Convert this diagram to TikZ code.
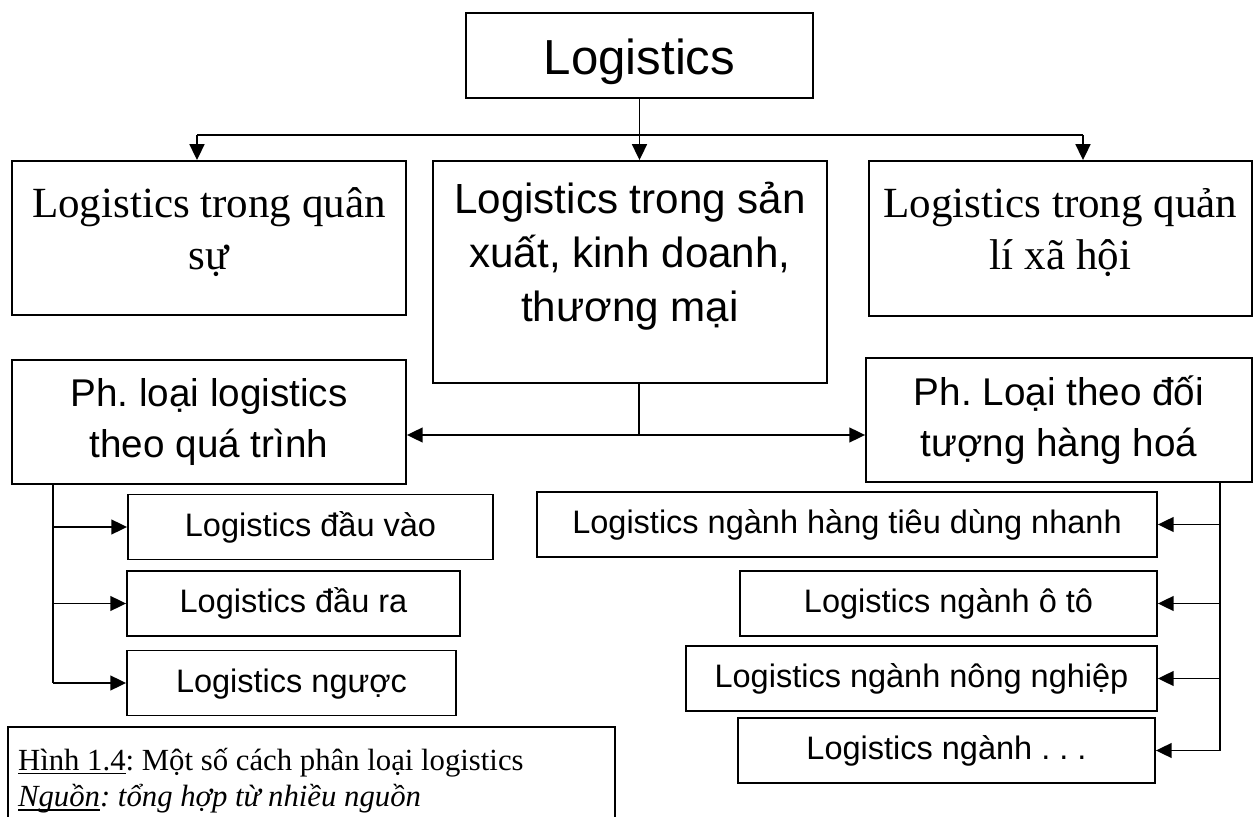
\documentclass[tikz,border=0pt]{standalone}
\usepackage{fontspec}
\setmainfont{Liberation Serif}
\setsansfont{Liberation Sans}
\usetikzlibrary{arrows.meta}
\frenchspacing

% text set at the top of a box of fixed size
\newcommand{\toptext}[4]{\parbox[c][#2][t]{#1}{\centering\vspace*{#3}\strut #4}}
% underline at a fixed depth, through descenders
\newcommand{\undl}[1]{\leavevmode\setbox0\hbox{#1}\rlap{\rule[-2.2pt]{\wd0}{0.8pt}}\box0}

\tikzset{
  box/.style={draw, line width=1.1pt, inner sep=0pt},
  headbox/.style={box, font=\fontsize{28}{34}\selectfont\sffamily, text height=22pt, text depth=0pt},
  kindbox/.style={box, align=center, minimum height=2.48cm, font=\fontsize{22}{29}\selectfont\sffamily},
  itembox/.style={box, minimum height=1.3cm, font=\fontsize{18.5}{22}\selectfont\sffamily, text height=10.5pt, text depth=0pt},
  link/.style={line width=0.9pt},
  arr/.style={link, -{Triangle[length=9pt,width=8.5pt]}}
}

\begin{document}
\begin{tikzpicture}[x=0.02cm, y=-0.02cm]
 \useasboundingbox (0,0) rectangle (1255,817);

 % first level
 \node[headbox, minimum width=6.94cm, minimum height=1.7cm] (root) at (639.5,55.5) {Logistics};
 \node[box, font=\fontsize{24.5}{30}\selectfont\rmfamily] (mil) at (209,238)
   {\toptext{7.88cm}{3.08cm}{10.9pt}{Logistics trong quân\\ sự}};
 \node[box, font=\fontsize{24}{31}\selectfont\sffamily] (prod) at (630,272)
   {\toptext{7.88cm}{4.44cm}{7.9pt}{Logistics trong sản\\ xuất, kinh doanh,\\ thương mại}};
 \node[box, font=\fontsize{24.5}{30}\selectfont\rmfamily] (soc) at (1060.5,238.5)
   {\toptext{7.66cm}{3.1cm}{10.9pt}{Logistics trong quản\\ lí xã hội}};

 % second level
 \node[kindbox, minimum width=7.88cm] (procc) at (209,422) {Ph. loại logistics\\ theo quá trình};
 \node[kindbox, minimum width=7.72cm] (goods) at (1059,420) {Ph. Loại theo đối\\ tượng hàng hoá};

 % by process
 \node[itembox, minimum width=7.3cm] (in) at (310.5,527) {Logistics đầu vào};
 \node[itembox, minimum width=6.66cm] (out) at (293.5,603.5) {Logistics đầu ra};
 \node[itembox, minimum width=6.58cm] (rev) at (291.5,683) {Logistics ngược};

 % by goods
 \node[itembox, minimum width=12.4cm] (fmcg) at (847,524.5) {Logistics ngành hàng tiêu dùng nhanh};
 \node[itembox, minimum width=8.34cm] (auto) at (948.5,603.5) {Logistics ngành ô tô};
 \node[itembox, minimum width=9.42cm] (agri) at (921.5,678.5) {Logistics ngành nông nghiệp};
 \node[itembox, minimum width=8.34cm] (etc) at (946.5,750.5) {Logistics ngành . . .};

 % caption
 \node[box, font=\fontsize{17.5}{21}\selectfont\rmfamily] (cap) at (311.5,782)
   {\parbox[c][2.2cm][t]{12.14cm}{\raggedright\leftskip=0.2cm\vspace*{9.8pt}\strut
    \undl{Hình 1.4}: Một số cách phân loại logistics\\
    \textit{\undl{Nguồn}: tổng hợp từ nhiều nguồn}}};

 % connectors
 \coordinate (busL) at (197,135);
 \coordinate (busR) at (1083,135);
 \draw[arr] (root) -- (root |- prod.north);
 \draw[link] (busL) -- (busR);
 \draw[arr] (busL) -- (busL |- mil.north);
 \draw[arr] (busR) -- (busR |- soc.north);

 \coordinate (split) at (639,435);
 \draw[link] (split |- prod.south) -- (split);
 \draw[arr] (split) -- (split -| procc.east);
 \draw[arr] (split) -- (split -| goods.west);

 \coordinate (lt) at (53,484);
 \draw[link] (lt) -- (lt |- rev.west);
 \foreach \b in {in,out,rev}
   \draw[arr] (lt |- \b.west) -- (\b.west);

 \coordinate (rt) at (1220,482);
 \draw[link] (rt) -- (rt |- etc.east);
 \foreach \b in {fmcg,auto,agri,etc}
   \draw[arr] (rt |- \b.east) -- (\b.east);
\end{tikzpicture}
\end{document}
